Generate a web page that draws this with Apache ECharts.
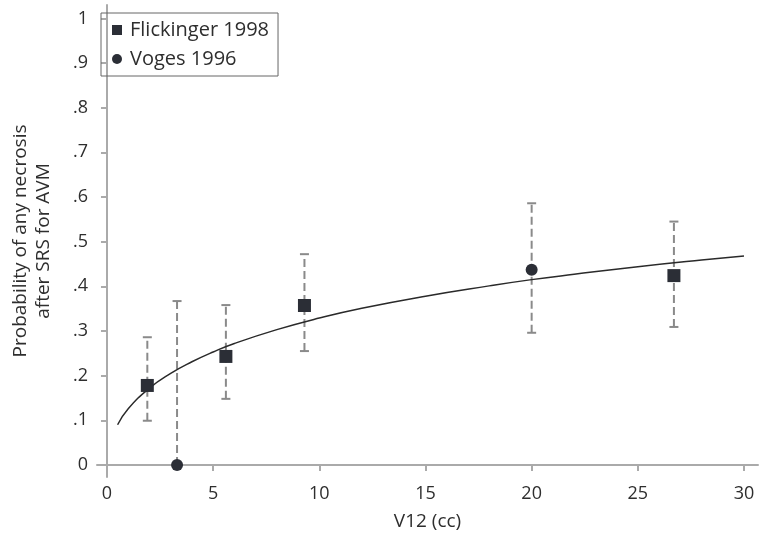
<!DOCTYPE html>
<html>
<head>
<meta charset="utf-8">
<script src="https://cdn.jsdelivr.net/npm/echarts@6/dist/echarts.min.js"></script>
<style>html,body{margin:0;padding:0;background:#fff}#c{width:760px;height:533px}</style>
</head>
<body>
<div id="c"></div>
<script>
// Flickinger 1998 (squares)
const flickX  = [1.9, 5.6, 9.3, 26.7];
const flickY  = [0.178, 0.243, 0.357, 0.424];
const flickLo = [0.099, 0.148, 0.255, 0.309];
const flickHi = [0.286, 0.358, 0.472, 0.545];
// Voges 1996 (circles)
const vogesX  = [3.3, 20.0];
const vogesY  = [0.0, 0.437];
const vogesLo = [0.0, 0.296];
const vogesHi = [0.367, 0.586];
// fitted curve
const curveX = [0.5, 1, 2, 3, 4, 5, 6, 8, 10, 12, 15, 18, 20, 22, 25, 28, 30];
const curveY = [0.090, 0.126, 0.172, 0.205, 0.231, 0.253, 0.272, 0.303, 0.329, 0.351, 0.378, 0.401, 0.415, 0.427, 0.444, 0.459, 0.468];
// ticks
const xTicks = [0, 5, 10, 15, 20, 25, 30];
const yTicks = [0, 0.1, 0.2, 0.3, 0.4, 0.5, 0.6, 0.7, 0.8, 0.9, 1];
const yTickLabels = ['0', '.1', '.2', '.3', '.4', '.5', '.6', '.7', '.8', '.9', '1'];

const FONT = 'Open Sans';
const axisCol = '#aaaaaa';
const txtCol = '#2e2e2e';
const markCol = '#2b2e36';

function errData(xs, lo, hi) { return xs.map((x, i) => [x, lo[i], hi[i]]); }
function renderErr(params, api) {
  const x = api.value(0);
  const p1 = api.coord([x, api.value(1)]);
  const p2 = api.coord([x, api.value(2)]);
  const w = 4.5;
  const st = { stroke: '#8a8a8a', lineWidth: 2 };
  return {
    type: 'group',
    children: [
      { type: 'line', shape: { x1: p1[0], y1: p1[1], x2: p2[0], y2: p2[1] }, style: Object.assign({ lineDash: [8, 4] }, st) },
      { type: 'line', shape: { x1: p1[0] - w, y1: p1[1], x2: p1[0] + w, y2: p1[1] }, style: st },
      { type: 'line', shape: { x1: p2[0] - w, y1: p2[1], x2: p2[0] + w, y2: p2[1] }, style: st }
    ]
  };
}

const chart = echarts.init(document.getElementById('c'), null, { renderer: 'canvas' });
chart.setOption({
  animation: false,
  textStyle: { fontFamily: FONT },
  grid: { left: 97, top: 5, right: 2, bottom: 56, containLabel: false, outerBoundsMode: 'none' },
  legend: {
    data: [
      { name: 'Flickinger 1998', icon: 'rect' },
      { name: 'Voges 1996', icon: 'circle' }
    ],
    orient: 'vertical', left: 101, top: 13,
    itemWidth: 10, itemHeight: 10, itemGap: 9,
    padding: [7, 9, 7, 11],
    borderColor: '#666', borderWidth: 1,
    textStyle: { fontFamily: FONT, fontSize: 20, color: txtCol, padding: [0, 0, 0, 3] }
  },
  xAxis: {
    type: 'value', min: -0.47, max: 30.66,
    name: 'V12 (cc)', nameLocation: 'middle', nameGap: 35,
    nameTextStyle: { fontFamily: FONT, fontSize: 19, color: txtCol },
    axisLine: { show: true, lineStyle: { color: axisCol, width: 2 } },
    axisTick: { show: true, length: 6, lineStyle: { color: axisCol, width: 2 }, customValues: xTicks },
    axisLabel: { fontFamily: FONT, fontSize: 18, color: txtCol, margin: 8, customValues: xTicks },
    splitLine: { show: false }
  },
  yAxis: {
    type: 'value', min: -0.027, max: 1.03,
    name: 'Probability of any necrosis\nafter SRS for AVM', nameLocation: 'middle', nameGap: 42,
    nameTextStyle: { fontFamily: FONT, fontSize: 19, color: txtCol, lineHeight: 23 },
    axisLine: { show: true, lineStyle: { color: axisCol, width: 2 } },
    axisTick: { show: true, length: 6, lineStyle: { color: axisCol, width: 2 }, customValues: yTicks },
    axisLabel: {
      fontFamily: FONT, fontSize: 18, color: txtCol, margin: 9, customValues: yTicks,
      formatter: v => { const i = yTicks.findIndex(t => Math.abs(t - v) < 1e-6); return i >= 0 ? yTickLabels[i] : ''; }
    },
    splitLine: { show: false }
  },
  series: [
    {
      name: 'fit', type: 'line', smooth: true, showSymbol: false, silent: true,
      data: curveX.map((x, i) => [x, curveY[i]]),
      lineStyle: { color: '#2a2a2a', width: 1.5 }, z: 3
    },
    { name: 'errF', type: 'custom', renderItem: renderErr, data: errData(flickX, flickLo, flickHi), z: 2, silent: true },
    { name: 'errV', type: 'custom', renderItem: renderErr, data: errData(vogesX, vogesLo, vogesHi), z: 2, silent: true },
    {
      name: 'Flickinger 1998', type: 'scatter', symbol: 'rect', symbolSize: 13,
      data: flickX.map((x, i) => [x, flickY[i]]),
      itemStyle: { color: markCol, opacity: 1 }, z: 5
    },
    {
      name: 'Voges 1996', type: 'scatter', symbol: 'circle', symbolSize: 12,
      data: vogesX.map((x, i) => [x, vogesY[i]]),
      itemStyle: { color: markCol, opacity: 1 }, z: 5
    }
  ]
});
</script>
</body>
</html>
